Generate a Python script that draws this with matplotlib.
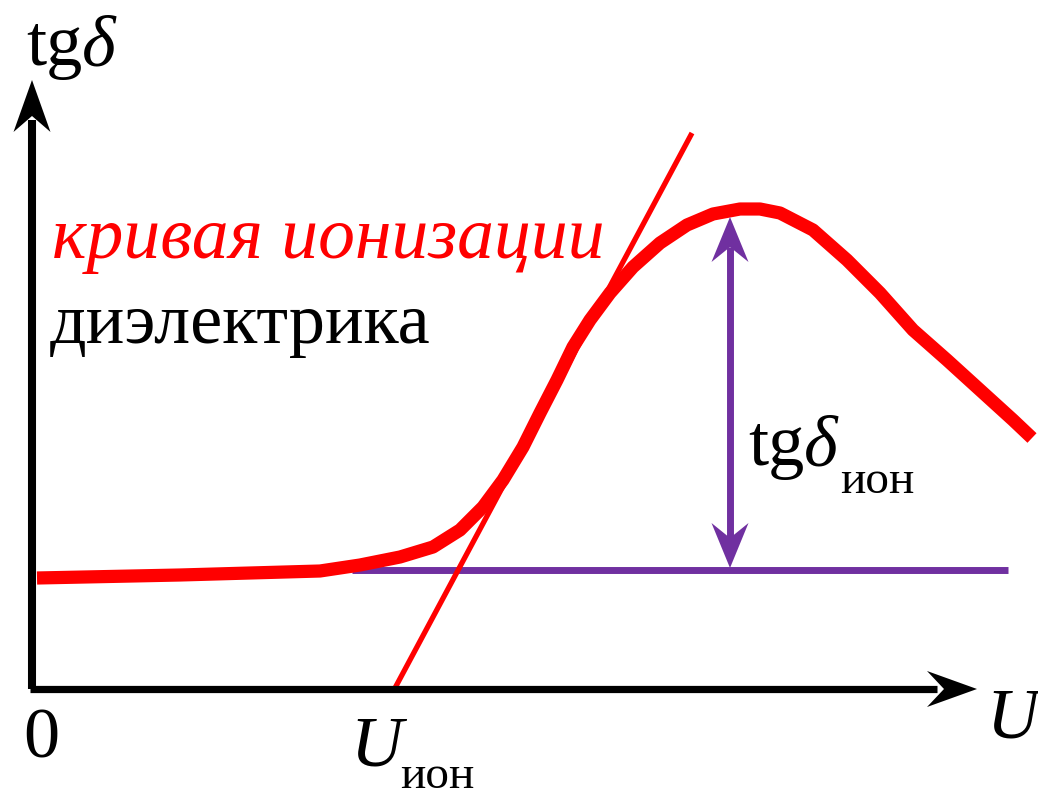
"""Schematic: ionisation curve of a dielectric, tg(delta) against voltage U.

The axes fill the whole figure and one data unit is one pixel, measured from the
origin of the drawn axes. The curve, the tangent and the tg(delta)_ion span are
read off the reference picture.
"""

import matplotlib.pyplot as plt
import numpy as np
from matplotlib.font_manager import FontProperties
from matplotlib.patches import Polygon

RED = "#FF0000"
PURPLE = "#7030A0"
SERIF = FontProperties(family="Liberation Serif", size=52)
SERIF_SUB = FontProperties(family="Liberation Serif", size=34)
SERIF_ITALIC = FontProperties(family="Liberation Serif", style="italic", size=52)
LABEL_ITALIC = FontProperties(family="Liberation Serif", style="italic", size=53)

# Ionisation curve tg(delta)(U), in pixels from the origin.
U_CURVE = [5, 148, 288, 328, 368, 401, 428, 451, 471, 491, 508, 525, 541, 558, 578,
           601, 628, 655, 681, 708, 728, 748, 781, 815, 848, 881, 915, 948, 981, 1000]
TG_CURVE = [111, 114, 118, 124, 132, 142, 159, 182, 209, 242, 276, 309, 342, 369, 396,
            422, 446, 464, 475, 480, 480, 476, 459, 429, 396, 359, 329, 299, 269, 251]

# Tangent at the inflection, cutting the U axis at U_ion.
TANGENT_U = [363, 660]
TANGENT_TG = [1, 556]

# Dielectric loss level before ionisation, and the tg(delta)_ion span.
BASE_TG = 119
BASE_U = [320, 976]
SPAN_U = 698
PEAK_TG = 472

# Axis extents.
U_AXIS_END = 945
TG_AXIS_END = 609


def arrow_head(ax, tip, direction, length, half_width, notch, color):
    """A barbed (concave) arrow head whose point is at ``tip``."""
    d = np.asarray(direction, dtype=float)
    d /= np.hypot(*d)
    n = np.array([-d[1], d[0]])
    tip = np.asarray(tip, dtype=float)
    back = tip - d * length
    verts = [tip, back + n * half_width, tip - d * (length - notch), back - n * half_width]
    ax.add_patch(Polygon(verts, closed=True, facecolor=color, edgecolor="none", zorder=5))


def tg_delta(ax, x, y, renderer):
    """Upright 'tg' followed by an italic delta; returns the right edge."""
    tg = ax.text(x, y, "tg", fontproperties=SERIF, va="baseline")
    x_delta = x + tg.get_window_extent(renderer).width
    delta = ax.text(x_delta, y, "δ", fontproperties=SERIF_ITALIC, va="baseline")
    return x_delta + delta.get_window_extent(renderer).width


fig = plt.figure(figsize=(10.38, 7.94), dpi=100)
ax = fig.add_axes([0, 0, 1, 1])
ax.set_xlim(-32, 1006)
ax.set_ylim(-105, 689)
ax.axis("off")
renderer = fig.canvas.get_renderer()

# Axes with arrow heads.
ax.plot([0, 0], [0, TG_AXIS_END - 40], color="black", lw=5.8, solid_capstyle="butt", zorder=4)
ax.plot([-2, U_AXIS_END - 40], [0, 0], color="black", lw=5.2, solid_capstyle="butt", zorder=4)
arrow_head(ax, (0, TG_AXIS_END), (0, 1), 52, 18.5, 16, "black")
arrow_head(ax, (U_AXIS_END, 0), (1, 0), 50, 18, 17, "black")

# Base level and the tg(delta)_ion double arrow.
ax.plot(BASE_U, [BASE_TG, BASE_TG], color=PURPLE, lw=5, solid_capstyle="butt", zorder=1)
ax.plot([SPAN_U, SPAN_U], [BASE_TG + 30, PEAK_TG - 30], color=PURPLE, lw=5,
        solid_capstyle="butt", zorder=5)
arrow_head(ax, (SPAN_U, PEAK_TG), (0, 1), 45, 18.5, 15, PURPLE)
arrow_head(ax, (SPAN_U, BASE_TG + 2), (0, -1), 45, 18.5, 15, PURPLE)

# Tangent and the ionisation curve.
ax.plot(TANGENT_U, TANGENT_TG, color=RED, lw=3.8, solid_capstyle="butt", zorder=2)
ax.plot(U_CURVE, TG_CURVE, color=RED, lw=9.5, solid_capstyle="butt",
        solid_joinstyle="round", zorder=3)

# Labels.
tg_delta(ax, -6, 624, renderer)
tg_delta(ax, 716, 224, renderer)
ax.text(808, 196, "ион", fontproperties=SERIF_SUB, va="baseline")
ax.text(954, -48, "U", fontproperties=SERIF_ITALIC, va="baseline")
ax.text(-9, -69, "0", fontproperties=SERIF, va="baseline")
ax.text(318, -76, "U", fontproperties=SERIF_ITALIC, va="baseline")
ax.text(368, -99, "ион", fontproperties=SERIF_SUB, va="baseline")
ax.text(20, 431, "кривая ионизации", fontproperties=LABEL_ITALIC, color=RED,
        va="baseline")
ax.text(18, 346, "диэлектрика", fontproperties=SERIF, va="baseline")

fig.savefig("out.png", dpi=100, facecolor="white")
